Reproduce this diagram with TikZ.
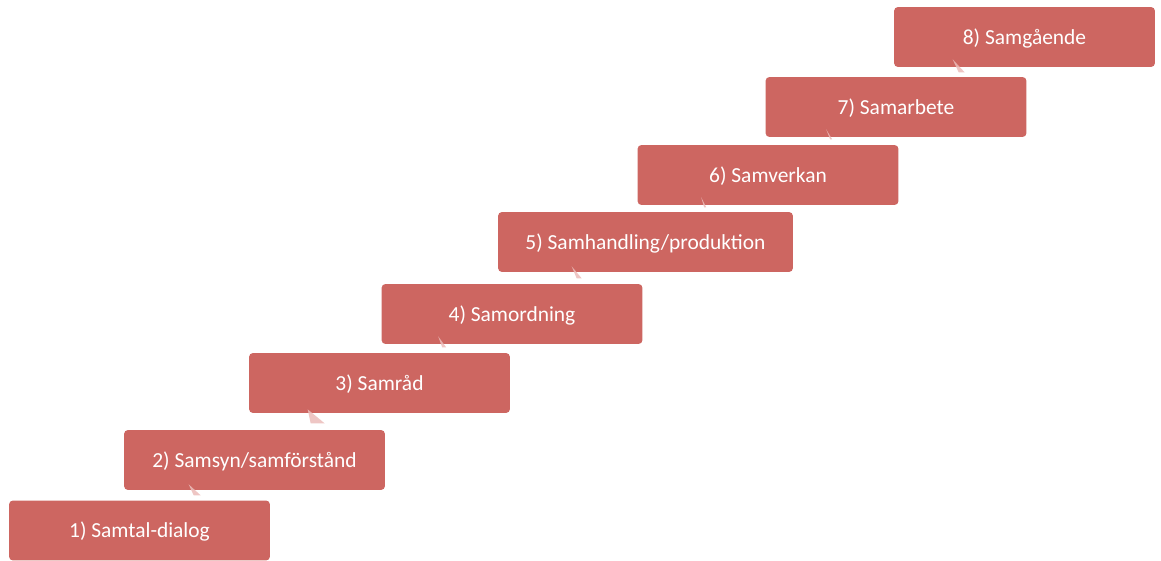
\documentclass[tikz,border=0pt]{standalone}
\usepackage{fontspec}
\setmainfont{Carlito}
\usepackage{xcolor}
\definecolor{step-red}{HTML}{CD6661}
\definecolor{step-pink}{HTML}{EBBCBA}

\begin{document}
\begin{tikzpicture}[x=0.02cm, y=0.02cm,
      every node/.style={font=\fontsize{12.2}{15}\selectfont},
      stepbox/.style={draw=none, fill=step-red, text=white, rounded corners=0.08cm,
          minimum width=5.22cm, minimum height=1.2cm, inner sep=0pt,
          text height=2.2ex, text depth=0.5ex},
      wedge/.style={fill=step-pink, fill opacity=0.85, draw=none}]
    \useasboundingbox (0,0) rectangle (1161,-561);
    % steps, from the bottom up
    \node[stepbox] (b1) at (139.5,-530.5) {1) Samtal-dialog};
    \node[stepbox] (b2) at (254.5,-460) {2) Samsyn/samförstånd};
    \node[stepbox] (b3) at (379.5,-383) {3) Samråd};
    \node[stepbox] (b4) at (512,-314) {4) Samordning};
    \node[stepbox, minimum width=5.9cm] (b5) at (645.5,-242) {5) Samhandling/produktion};
    \node[stepbox] (b6) at (768,-175) {6) Samverkan};
    \node[stepbox] (b7) at (896,-107) {7) Samarbete};
    \node[stepbox] (b8) at (1024.5,-37) {8) Samgående};
    % small connector tips between the steps
    \foreach \up/\tx/\ty/\ax/\bx/\by in {b2/65/6/70/77/-5, b3/59/4/62/76/-10,
        b4/57/8/61/65/-3, b5/74/6/79/84/-6, b6/64/8/67/69/-2,
        b7/61/8/65/67/-2, b8/59/8/65/71/-5}
      \fill[wedge] ([shift={(\tx,\ty)}]\up.south west)
        -- ([shift={(\ax,\by)}]\up.south west)
        -- ([shift={(\bx,\by)}]\up.south west) -- cycle;
  \end{tikzpicture}
\end{document}
